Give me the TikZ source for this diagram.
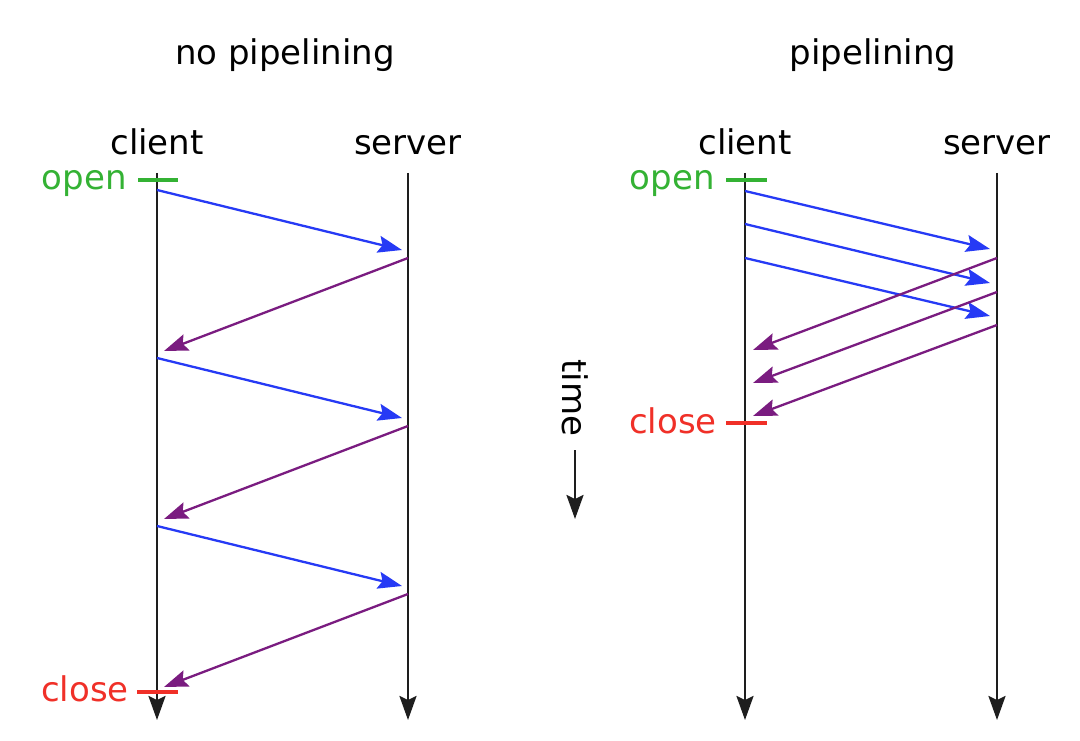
\documentclass[tikz,border=0pt]{standalone}
\usepackage{fontspec}
\setmainfont{DejaVu Sans}
\usetikzlibrary{arrows.meta}
\definecolor{req}{RGB}{38,58,245}
\definecolor{resp}{RGB}{122,28,128}
\definecolor{opn}{RGB}{52,178,52}
\definecolor{cls}{RGB}{240,48,40}
\definecolor{axis}{RGB}{30,30,30}
\begin{document}
\begin{tikzpicture}[x=1pt,y=-1pt,
  txt/.style={font=\fontsize{34}{41}\selectfont, inner sep=0pt},
  tipshape/.style={-{Stealth[length=24pt,width=17pt,inset=4pt]}},
  life/.style={draw=axis, line width=2.5pt, tipshape},
  reqarr/.style={draw=req, line width=2.3pt, tipshape},
  resparr/.style={draw=resp, line width=2.3pt, tipshape},
  tickmark/.style={line width=3.5pt}]
\useasboundingbox[fill=white] (0,0) rectangle (1080,741);

% titles
\node[txt, anchor=base] (t1) at (285,65) {no pipelining};
\node[txt, anchor=base] (t2) at (873,65) {pipelining};

% headers
\node[txt, anchor=base] (c1) at (157,155) {client};
\node[txt, anchor=base] (s1) at (408,155) {server};
\node[txt, anchor=base] (c2) at (745,155) {client};
\node[txt, anchor=base] (s2) at (997,155) {server};

% lifelines
\coordinate (c1top) at (157,173); \coordinate (c1bot) at (157,720);
\coordinate (s1top) at (408,173); \coordinate (s1bot) at (408,720);
\coordinate (c2top) at (745,173); \coordinate (c2bot) at (745,720);
\coordinate (s2top) at (997,173); \coordinate (s2bot) at (997,720);
\draw[life] (c1top) -- (c1bot);
\draw[life] (s1top) -- (s1bot);
\draw[life] (c2top) -- (c2bot);
\draw[life] (s2top) -- (s2bot);

% open / close marks, left
\node[txt, anchor=base east, text=opn] (o1) at (127,190) {open};
\coordinate (o1a) at (138,180); \coordinate (o1b) at (178,180);
\draw[tickmark, opn] (o1a) -- (o1b);
\node[txt, anchor=base east, text=cls] (x1) at (129,701) {close};
\coordinate (x1a) at (137,692); \coordinate (x1b) at (178,692);
\draw[tickmark, cls] (x1a) -- (x1b);

% open / close marks, right
\node[txt, anchor=base east, text=opn] (o2) at (715,190) {open};
\coordinate (o2a) at (726,180); \coordinate (o2b) at (767,180);
\draw[tickmark, opn] (o2a) -- (o2b);
\node[txt, anchor=base east, text=cls] (x2) at (717,433) {close};
\coordinate (x2a) at (726,423); \coordinate (x2b) at (767,423);
\draw[tickmark, cls] (x2a) -- (x2b);

% no pipelining messages
\foreach \i/\bs/\bt/\ps/\pt in {1/190/250/258/351, 2/358/418/426/519, 3/526/586/594/687} {
  \coordinate (lq\i s) at (157,\bs); \coordinate (lq\i t) at (402,\bt);
  \coordinate (lr\i s) at (408,\ps); \coordinate (lr\i t) at (164,\pt);
  \draw[reqarr] (lq\i s) -- (lq\i t);
  \draw[resparr] (lr\i s) -- (lr\i t);
}

% pipelining messages
\foreach \i/\bs/\bt in {1/191/249, 2/224/283, 3/258/316} {
  \coordinate (rq\i s) at (745,\bs); \coordinate (rq\i t) at (990,\bt);
  \draw[reqarr] (rq\i s) -- (rq\i t);
}
\foreach \i/\ps/\pt in {1/258/350, 2/292/383, 3/325/416} {
  \coordinate (rr\i s) at (997,\ps); \coordinate (rr\i t) at (753,\pt);
  \draw[resparr] (rr\i s) -- (rr\i t);
}

% time
\node[txt, rotate=-90] (time) at (575,398) {time};
\coordinate (ta) at (575,450); \coordinate (tb) at (575,519);
\draw[draw=axis, line width=2.5pt, tipshape] (ta) -- (tb);
\end{tikzpicture}
\end{document}
